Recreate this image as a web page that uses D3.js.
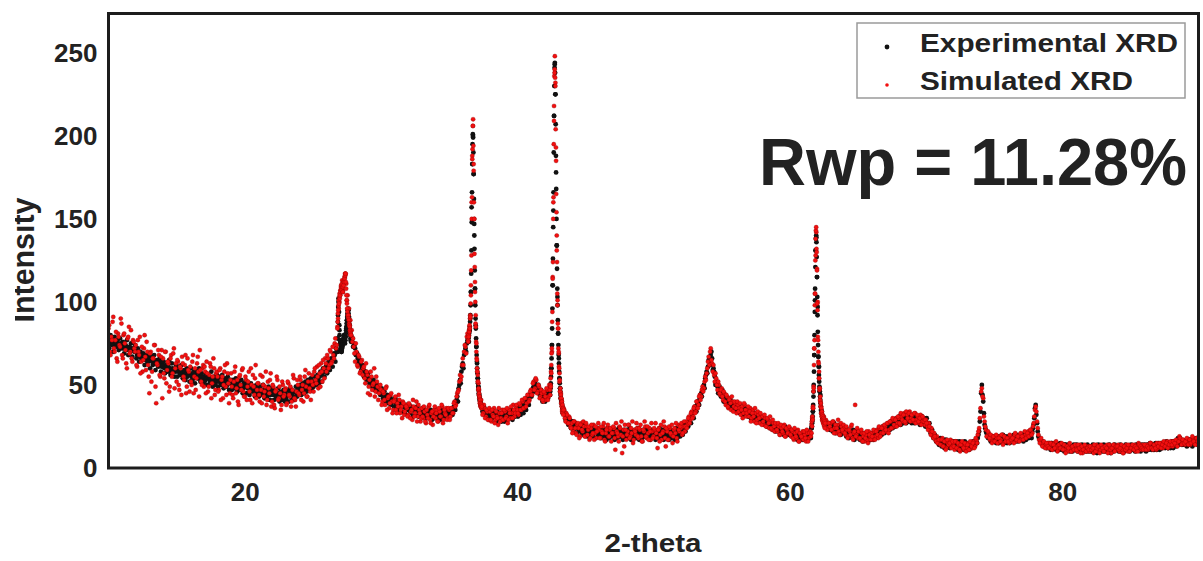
<!DOCTYPE html>
<meta charset="utf-8">
<style>
body { margin: 0; background: #fff; }
svg text { font-family: "Liberation Sans", Arial, sans-serif; font-weight: bold; fill: #222; }
</style>
<svg width="1203" height="561"></svg>
<script src="https://d3js.org/d3.v7.min.js"></script>
<script>

var xTicks = [20, 40, 60, 80];
var yTicks = [0, 50, 100, 150, 200, 250];
var seriesNames = ["Experimental XRD", "Simulated XRD"];

// whole scan, 10.0 .. 90.0 step 0.1
var mainStart = 10, mainStep = 0.1;
var expMain = [
  78,76,77,75,76,74,76,75,73,75, 74,72,73,71,73,72,70,72,71,70,
  71,68,69,67,68,66,67,65,66,64, 65,66,64,65,63,64,62,64,63,61,
  62,60,61,59,61,60,58,60,59,58, 59,58,60,57,58,56,58,57,55,57,
  57,55,56,54,57,55,54,56,55,53, 55,53,54,55,53,54,52,54,53,52,
  54,52,53,51,52,51,53,50,52,51, 52,50,51,49,51,50,48,50,49,48,
  50,49,48,50,47,49,48,46,48,47, 48,46,47,45,47,46,44,46,45,44,
  46,44,45,43,45,44,42,45,44,43, 45,43,44,46,44,45,43,46,45,47,
  47,46,48,47,49,48,50,49,51,50, 52,51,53,54,53,55,56,57,58,59,
  60,61,63,62,65,66,68,72,70,100, 75,70,76,80,79,89,95,86,80,78,
  75,72,69,66,64,62,61,59,58,56, 55,54,52,53,51,50,49,48,47,46,
  46,44,45,43,42,43,41,42,40,41, 40,39,40,38,39,37,38,37,36,38,
  37,36,37,35,36,34,36,35,34,35, 34,33,35,33,34,32,34,33,32,34,
  33,32,34,32,33,31,33,32,34,33, 33,33,34,35,37,39,43,48,53,58,
  63,68,72,75,78,83,106,183,177,108, 73,54,44,39,36,35,34,33,33,32,
  32,31,33,31,32,30,31,32,30,31, 31,30,32,31,33,32,31,33,32,34,
  33,35,34,36,35,37,38,40,41,43, 45,47,49,51,50,48,46,44,42,43,
  42,43,44,46,44,60,110,212,225,134, 81,54,42,37,34,32,30,29,28,27,
  26,25,26,24,25,23,24,22,23,24, 22,23,21,22,24,22,21,23,22,20,
  21,22,20,22,21,19,21,20,22,21, 20,21,19,21,22,20,19,21,20,22,
  21,20,22,20,19,21,20,22,21,20, 20,22,21,19,21,20,22,21,19,20,
  21,20,19,21,20,22,20,19,21,20, 19,21,20,18,20,21,19,20,22,21,
  21,23,22,24,25,27,28,30,31,33, 35,36,38,40,42,45,47,50,54,58,
  61,64,68,66,60,55,51,49,47,46, 45,43,42,41,40,39,40,38,37,38,
  37,36,37,35,36,34,35,36,34,33, 33,34,32,33,31,32,30,31,29,30,
  29,28,29,27,28,26,27,25,26,25, 24,25,23,24,22,23,24,22,21,23,
  22,21,20,22,19,21,20,18,19,20, 19,18,20,19,21,20,24,34,68,131,
  115,67,46,35,30,28,27,26,25,26, 25,27,24,26,23,25,24,22,24,23,
  22,23,21,23,20,22,21,19,21,20, 20,19,21,18,20,19,17,19,18,20,
  19,18,20,19,21,20,22,21,23,24, 23,25,24,26,25,27,26,28,27,29,
  28,27,29,28,30,29,31,30,29,31, 30,29,31,30,28,30,29,31,28,29,
  28,27,25,24,22,20,19,18,17,16, 16,15,17,14,16,15,13,15,14,16,
  14,13,15,12,14,13,15,12,14,13, 13,14,12,14,13,15,14,16,18,22,
  34,50,40,26,22,20,19,18,17,18, 17,18,16,18,17,19,16,18,17,16,
  17,16,18,16,17,19,18,17,19,18, 18,17,19,18,20,19,21,20,22,26,
  36,32,22,18,16,15,14,15,13,14, 14,13,15,12,14,13,12,14,13,12,
  13,12,14,11,13,12,11,13,12,11, 12,11,13,12,10,12,11,13,11,12,
  11,12,10,12,11,13,11,10,12,11, 12,11,13,11,12,10,12,11,13,12,
  11,13,12,10,12,11,13,12,11,12, 13,12,11,13,12,14,12,11,13,12,
  12,11,13,12,14,12,13,11,12,13, 13,12,14,12,13,15,13,14,12,14,
  14,13,15,14,16,18,17,15,14,15, 15,14,16,15,17,16,14,16,15,17,
  16
];
var simMain = [
  84,70,79,88,72,77,66,81,74,90, 68,80,75,63,78,85,70,66,77,72,
  74,61,70,79,64,58,72,67,76,62, 45,70,58,66,74,39,62,68,55,71,
  66,54,70,59,63,49,68,57,72,60, 52,64,47,60,67,55,62,45,66,58,
  61,50,68,55,47,63,58,71,52,60, 49,58,64,46,56,61,51,66,44,57,
  55,47,60,53,42,58,49,63,51,45, 57,44,52,61,48,40,55,50,59,46,
  43,53,49,58,41,50,56,44,62,47, 51,40,47,55,43,49,38,52,45,57,
  40,49,36,47,53,42,45,38,50,44, 48,39,51,43,37,47,54,41,46,50,
  44,53,47,40,55,49,43,57,46,52, 50,58,53,61,48,57,63,52,60,66,
  58,66,62,70,64,68,75,72,85,96, 104,110,106,112,117,101,92,86,80,76,
  73,64,70,61,67,58,65,60,54,63, 56,49,44,55,50,60,46,52,41,48,
  47,40,45,38,49,42,36,44,40,35, 41,35,39,44,33,37,40,32,38,36,
  32,38,34,29,37,33,40,31,35,28, 36,30,34,27,32,37,29,33,26,35,
  30,35,28,34,31,37,29,33,36,30, 35,31,36,33,40,38,45,47,56,55,
  66,70,73,79,77,85,110,188,183,112, 70,56,47,37,38,33,36,31,34,29,
  34,28,32,36,29,31,26,33,30,35, 29,34,31,27,35,30,33,38,31,36,
  35,32,38,35,40,36,42,39,44,41, 47,44,52,48,53,46,49,43,45,40,
  45,41,47,43,48,62,115,218,232,140, 84,57,45,34,36,30,33,27,31,25,
  27,22,28,21,26,24,19,27,22,25, 19,25,23,17,24,20,26,21,18,24,
  23,18,22,25,17,21,24,19,23,16, 21,24,11,22,19,25,20,9,23,26,
  17,22,26,19,21,15,23,20,24,18, 23,19,16,22,25,18,21,24,17,22,
  19,23,21,12,24,20,17,22,25,13, 22,17,24,20,15,23,21,18,26,22,
  24,20,25,22,28,26,31,29,34,31, 37,34,40,38,44,43,49,48,55,57,
  64,62,72,63,62,52,54,47,50,44, 48,41,45,38,43,36,42,35,40,37,
  39,33,38,36,32,37,33,38,31,35, 31,36,30,35,28,33,29,32,27,31,
  31,26,30,25,29,24,28,23,27,22, 26,22,25,20,24,21,26,19,23,21,
  24,19,22,17,21,18,23,16,20,18, 17,20,16,21,18,22,26,36,72,138,
  120,70,48,37,29,31,25,28,24,27, 27,23,28,24,21,26,22,20,25,22,
  24,20,23,19,22,25,18,21,38,20, 18,22,17,21,19,16,20,17,22,19,
  21,17,22,19,23,18,24,21,25,22, 25,22,27,23,28,24,29,25,30,27,
  30,26,31,28,33,27,32,29,34,30, 32,28,33,29,31,27,32,28,30,26,
  29,25,27,22,24,19,21,17,19,15, 17,14,18,13,16,12,15,14,17,13,
  15,11,16,12,14,10,15,13,11,14, 12,15,11,14,12,16,13,17,20,24,
  36,48,42,28,23,19,21,17,18,16, 19,16,18,15,19,17,20,15,18,16,
  18,15,19,16,18,20,16,19,17,20, 17,19,18,20,19,22,20,23,21,27,
  35,34,24,17,17,14,15,13,14,12, 15,12,14,11,15,12,13,11,14,12,
  12,14,11,13,10,14,12,10,13,11, 13,10,12,14,11,9,12,13,10,13,
  10,13,11,9,12,14,10,12,11,13, 13,10,12,14,11,13,9,12,14,11,
  12,14,10,13,11,9,12,14,10,13, 11,13,12,14,10,13,15,12,11,14,
  13,12,14,11,13,15,12,14,13,11, 12,14,13,15,12,14,13,16,14,13,
  15,13,16,14,15,17,19,16,15,17, 14,16,15,17,14,16,18,15,17,14,
  15
];

// in-between readings, 10.05 .. 89.95 step 0.1
var midStart = 10.05;
var expMid = [
  72,80,74,70,79,73,77,71,78,72, 76,69,74,77,68,73,75,67,72,74,
  66,72,64,70,65,69,62,68,64,67, 60,67,62,68,59,65,61,66,58,64,
  64,57,62,58,65,56,63,59,55,62, 55,61,56,62,54,59,53,60,56,52,
  60,53,58,51,59,54,60,52,57,51, 52,57,50,56,51,58,49,55,50,56,
  49,55,50,56,48,54,49,55,47,53, 47,53,48,54,46,52,47,53,45,51,
  52,45,50,44,51,46,49,43,50,45, 43,49,44,50,42,48,43,49,41,47,
  48,41,47,42,48,40,46,41,47,40, 41,47,40,48,42,46,41,49,43,48,
  50,44,51,45,52,46,53,47,54,48, 49,55,50,56,51,58,52,60,55,61,
  57,64,59,66,61,69,64,70,92,83, 72,73,78,77,84,92,91,82,77,73,
  74,68,69,63,65,59,62,55,58,53, 57,51,54,49,53,47,51,46,49,44,
  48,42,46,40,44,39,43,38,41,37, 42,36,40,35,39,34,38,33,37,35,
  38,33,36,31,35,32,37,31,35,32, 36,31,35,30,34,31,35,29,33,30,
  35,30,34,29,35,31,34,30,35,31, 31,35,32,37,35,41,40,50,51,61,
  60,70,70,77,76,90,157,200,140,86, 63,49,41,38,34,37,32,35,31,34,
  29,34,30,33,28,34,29,33,28,33, 28,33,29,34,30,35,29,34,31,35,
  31,37,32,38,33,39,35,42,38,44, 43,48,46,53,47,50,44,47,40,45,
  40,45,42,48,50,74,155,243,178,103, 66,48,40,33,34,29,31,26,29,24,
  28,23,27,21,26,22,25,20,26,21, 24,19,24,20,25,19,23,18,24,20,
  23,18,24,19,23,17,24,18,23,19, 22,17,23,18,24,19,22,17,23,18,
  23,18,24,17,22,19,23,18,24,17, 22,17,23,19,24,18,22,17,23,19,
  23,17,22,18,24,19,23,17,22,18, 21,17,23,19,22,17,24,18,23,19,
  24,20,26,22,27,25,30,27,33,30, 37,34,40,38,44,43,49,48,56,57,
  65,62,70,59,58,50,52,45,49,43, 47,40,44,39,42,37,41,36,39,35,
  39,34,38,33,37,32,36,33,35,31, 35,30,34,29,33,29,32,28,31,27,
  30,26,29,25,28,24,27,23,26,22, 26,22,25,21,24,20,25,20,23,20,
  23,19,22,18,21,17,21,17,20,17, 21,17,20,17,22,18,28,46,101,139,
  97,61,44,34,29,27,28,24,26,23, 26,22,27,21,25,21,26,20,25,21,
  24,19,23,18,22,19,23,17,22,18, 21,17,20,16,21,17,20,16,19,17,
  21,17,22,18,23,19,24,20,25,21, 26,22,27,23,28,24,29,25,30,26,
  31,26,32,27,31,27,32,28,32,27, 32,27,32,28,31,26,31,27,30,25,
  30,25,27,21,23,18,20,16,18,14, 18,13,17,12,17,13,16,12,16,13,
  16,12,16,11,16,12,15,11,16,12, 15,11,15,12,16,13,17,15,20,28,
  45,44,33,24,21,18,20,16,19,16, 19,15,19,15,19,16,20,15,19,15,
  19,15,19,16,20,16,20,16,20,17, 20,16,21,17,21,18,22,18,24,30,
  38,27,19,17,15,16,13,15,12,15, 15,11,15,12,15,11,14,11,15,11,
  14,10,14,11,14,10,13,10,14,11, 14,10,13,10,14,10,13,10,14,10,
  13,10,14,10,13,9,14,10,13,10, 14,10,13,10,14,9,13,10,14,11,
  13,10,14,10,13,10,14,11,13,10, 14,11,13,10,14,11,14,10,14,11,
  14,10,14,11,15,11,14,11,15,11, 15,11,15,12,14,12,16,12,15,12,
  16,12,16,13,17,14,18,15,16,14, 16,13,17,14,16,13,17,15,18,14
];
var simMid = [
  86,68,77,91,70,82,64,79,73,87, 66,81,71,60,79,69,83,64,76,70,
  62,77,68,57,73,65,80,59,70,55, 69,52,66,74,49,63,71,56,67,42,
  57,70,51,64,46,66,55,69,48,63, 65,50,61,44,63,53,68,49,59,46,
  52,64,45,60,54,67,43,59,50,62, 61,45,57,49,63,42,55,60,47,58,
  46,59,41,55,50,62,44,57,39,53, 49,42,58,45,53,38,56,47,60,43,
  55,41,52,46,60,39,49,54,42,51, 44,56,39,50,46,58,41,48,53,37,
  50,38,46,55,41,49,35,52,43,47, 38,52,44,49,40,56,42,37,53,45,
  55,41,50,45,59,43,52,48,41,56, 46,60,51,55,62,49,58,65,54,63,
  68,60,71,63,73,66,78,74,90,100, 107,113,108,115,111,104,96,89,83,78,
  69,75,62,68,57,64,56,61,51,58, 45,53,58,47,51,43,55,49,45,50,
  38,46,41,48,35,43,39,45,33,40, 43,33,37,41,35,30,39,34,37,31,
  39,30,35,41,31,36,28,38,33,30, 31,37,28,35,30,38,27,34,31,37,
  33,28,36,31,38,27,35,32,29,36, 29,36,33,39,37,43,46,52,53,62,
  62,74,69,81,80,92,160,206,150,92, 60,51,39,41,32,38,30,35,29,36,
  29,35,31,27,34,30,36,28,33,29, 35,30,36,29,33,37,30,35,33,38,
  33,39,35,41,36,42,37,44,40,46, 44,51,47,54,45,50,42,47,41,46,
  43,48,41,50,54,70,160,240,185,98, 69,46,41,33,35,28,32,27,30,24,
  21,28,24,20,27,18,26,23,28,19, 27,20,25,18,26,21,17,25,22,27,
  18,25,21,27,16,23,26,19,24,21, 25,18,27,21,16,24,28,19,13,23,
  20,26,18,24,28,17,22,27,19,24, 26,16,23,28,19,25,17,22,27,18,
  24,27,18,23,16,26,21,28,18,24, 17,25,21,26,19,24,27,16,23,25,
  27,21,28,25,24,30,27,33,30,36, 33,40,36,43,41,47,46,52,53,60,
  67,70,65,58,56,57,50,52,45,47, 43,46,40,44,37,41,39,43,34,40,
  36,40,34,39,35,30,39,35,33,37, 34,28,33,31,36,27,34,30,33,26,
  28,32,25,30,27,31,24,29,25,27, 23,27,20,26,22,25,19,24,21,25,
  20,23,18,24,19,22,16,21,19,22, 22,18,23,16,21,19,30,49,105,142,
  100,58,40,33,31,26,29,23,27,25, 23,28,21,26,24,29,20,27,23,26,
  21,25,18,23,20,26,17,22,19,24, 22,18,23,16,21,18,22,15,20,17,
  19,23,17,22,20,25,19,24,21,26, 23,27,21,28,24,30,26,29,25,31,
  27,33,29,32,28,34,30,33,28,32, 29,33,27,32,28,30,26,31,28,29,
  27,23,25,20,22,18,19,16,15,17, 14,17,13,16,11,17,14,15,12,16,
  13,16,12,15,11,14,16,12,15,10, 14,11,16,13,15,12,18,15,22,30,
  46,43,31,25,19,22,18,20,15,19, 16,20,15,18,16,20,14,19,16,18,
  16,20,17,18,15,21,17,19,16,21, 19,17,22,18,21,19,23,20,25,31,
  37,28,20,15,18,13,16,12,15,13, 12,15,11,14,12,16,10,14,12,15,
  11,14,9,13,12,15,10,13,11,14, 11,14,12,9,13,11,14,10,12,11,
  13,11,12,14,10,12,13,9,14,12, 10,13,12,9,14,11,12,14,10,13,
  13,11,12,14,9,13,11,12,14,10, 12,14,11,13,12,10,14,13,12,11,
  14,11,13,12,15,12,11,14,12,15, 13,15,12,14,16,13,15,12,14,16,
  14,16,15,17,13,16,18,14,17,15, 16,18,14,17,15,19,16,14,18,16
];

// finer steps (0.02) through the peaks
var peakStep = 0.02;
var peakStarts = [26.8, 36.4, 42.4, 61.6];
var expPeak27 = [70,78,88,97,102,100,94,86,80,77, 75,74,72,71,70,70,71,72,73,74,
  76,75,77,78,79,80,78,76,75,77, 79,81,83,85,87,89,91,93,95,96, 95,93,91,88,86,84,82,80,78,77, 76];
var simPeak27 = [84,88,93,95,98,101,99,103,105,102, 104,107,106,109,110,108,107,111,109,106,
  106,109,112,110,113,112,115,114,117,116, 117,112,108,104,101,99,96,94,92,91, 92,90,89,87,86,85,83,82,81,80, 80];
var expPeak37 = [78,79,80,81,82,83,85,88,92,98, 106,117,131,148,166,183,195,201,199,190,
  177,162,147,132,119,108,98,90,84,78, 73,68,64,60,57,54,51,49,47,45, 44,43,42,41,40,39,38,38,37,37, 36];
var simPeak37 = [76,80,79,83,82,86,84,90,91,99, 104,119,128,150,163,186,192,206,210,194,
  179,160,150,129,121,106,100,87,85,76, 75,66,65,58,58,52,52,47,48,44, 45,42,43,40,41,38,39,37,38,36, 37];
var expPeak43 = [44,46,48,51,55,60,66,74,84,96, 110,126,145,166,190,212,230,241,244,238,
  225,207,188,168,150,134,120,108,98,89, 81,74,68,63,58,54,51,48,46,44, 42,41,40,39,38,37,36,35,34,34, 33];
var simPeak43 = [47,44,50,49,58,57,69,72,88,94, 114,124,150,163,195,209,236,238,248,235,
  230,204,193,165,154,131,124,105,101,87, 84,72,70,61,60,52,53,46,48,42, 44,39,42,37,40,35,38,33,36,32, 35];
var expPeak62 = [24,25,27,29,31,34,38,43,50,58, 68,80,94,108,121,131,138,140,136,127,
  115,103,92,82,74,67,61,56,52,49, 46,43,41,39,37,35,34,33,32,31, 30,30,29,29,28,28,27,27,27,26, 26];
var simPeak62 = [21,28,25,31,29,37,36,46,48,62, 72,77,98,105,125,128,143,145,132,130,
  119,99,95,79,77,64,63,54,54,47, 48,41,43,37,39,33,36,31,34,29, 32,28,31,27,30,26,29,25,28,24, 27];

function build(start, step, values) {
  return values.map(function(v, i) { return [start + i * step, v]; });
}

var experimental = build(mainStart, mainStep, expMain).concat(build(midStart, mainStep, expMid));
[expPeak27, expPeak37, expPeak43, expPeak62].forEach(function(a, k) {
  experimental = experimental.concat(build(peakStarts[k], peakStep, a));
});
var simulated = build(mainStart, mainStep, simMain).concat(build(midStart, mainStep, simMid));
[simPeak27, simPeak37, simPeak43, simPeak62].forEach(function(a, k) {
  simulated = simulated.concat(build(peakStarts[k], peakStep, a));
});

var svg = d3.select("svg");

var x = d3.scaleLinear().domain([10, 90]).range([108.5, 1198.5]);
var y = d3.scaleLinear().domain([0, 274]).range([468, 13]);

svg.append("clipPath").attr("id", "plot")
  .append("rect")
  .attr("x", 108.5).attr("y", 13).attr("width", 1090).attr("height", 455);
svg.append("clipPath").attr("id", "ylab")
  .append("rect")
  .attr("x", 15).attr("y", 150).attr("width", 60).attr("height", 220);

var dots = svg.append("g").attr("clip-path", "url(#plot)");

dots.selectAll("circle.exp")
  .data(experimental)
  .enter().append("circle")
  .attr("class", "exp")
  .attr("cx", function(d) { return x(d[0]); })
  .attr("cy", function(d) { return y(d[1]); })
  .attr("r", 2.4)
  .attr("fill", "#111");

dots.selectAll("circle.sim")
  .data(simulated)
  .enter().append("circle")
  .attr("class", "sim")
  .attr("cx", function(d) { return x(d[0]); })
  .attr("cy", function(d) { return y(d[1]); })
  .attr("r", 2.1)
  .attr("fill", "#f21010")
  .attr("stroke", "#8c0000")
  .attr("stroke-width", 0.35);

// axes, no tick marks
var yAxis = svg.append("g")
  .attr("transform", "translate(108.5,0)")
  .call(d3.axisLeft(y).tickValues(yTicks).tickSize(0).tickPadding(11));
var xAxis = svg.append("g")
  .attr("transform", "translate(0,468)")
  .call(d3.axisBottom(x).tickValues(xTicks).tickSize(0).tickPadding(15));
[xAxis, yAxis].forEach(function(a) {
  a.select(".domain").remove();
  a.attr("font-family", null).attr("font-size", null);
  a.selectAll("text").style("font-size", "26px").attr("fill", "#222");
});

// frame
svg.append("rect")
  .attr("x", 108.5).attr("y", 13.5)
  .attr("width", 1090).attr("height", 454.5)
  .attr("fill", "none")
  .attr("stroke", "#1c1c1c")
  .attr("stroke-width", 3);

// legend
var legend = svg.append("g");
legend.append("rect")
  .attr("x", 857).attr("y", 23).attr("width", 328).attr("height", 75)
  .attr("fill", "#fff").attr("stroke", "#9a9a9a").attr("stroke-width", 1.5);
legend.append("circle").attr("cx", 887).attr("cy", 47).attr("r", 2.4).attr("fill", "#111");
legend.append("circle").attr("cx", 887).attr("cy", 85).attr("r", 1.8).attr("fill", "#f21010");
legend.append("text").attr("x", 920).attr("y", 52)
  .attr("textLength", 258).attr("lengthAdjust", "spacingAndGlyphs")
  .style("font-size", "26px").text(seriesNames[0]);
legend.append("text").attr("x", 920).attr("y", 90)
  .attr("textLength", 213).attr("lengthAdjust", "spacingAndGlyphs")
  .style("font-size", "26px").text(seriesNames[1]);

svg.append("text")
  .attr("x", 759).attr("y", 185)
  .attr("textLength", 428).attr("lengthAdjust", "spacingAndGlyphs")
  .style("font-size", "66px").attr("fill", "#111")
  .text("Rwp = 11.28%");

svg.append("text")
  .attr("x", 653).attr("y", 552)
  .attr("text-anchor", "middle")
  .attr("textLength", 97).attr("lengthAdjust", "spacingAndGlyphs")
  .style("font-size", "26px")
  .text("2-theta");

svg.append("g").attr("clip-path", "url(#ylab)")
  .append("text")
  .attr("transform", "translate(34,260) rotate(-90)")
  .attr("text-anchor", "middle")
  .attr("textLength", 125).attr("lengthAdjust", "spacingAndGlyphs")
  .style("font-size", "31px")
  .text("Intensity");

</script>
